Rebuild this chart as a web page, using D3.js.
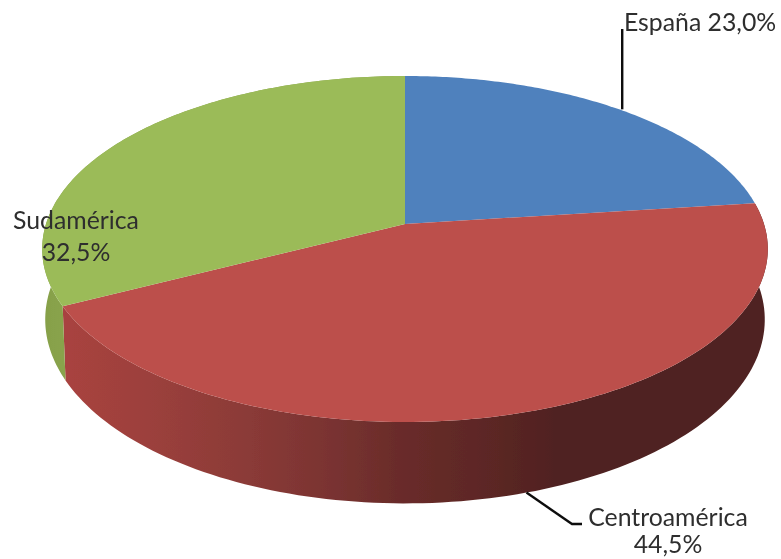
<!DOCTYPE html>
<html><head><meta charset="utf-8">
<script src="https://cdn.jsdelivr.net/npm/d3@7"></script>
<style>html,body{margin:0;padding:0;background:#fff}svg{display:block}</style>
</head><body><div id="chart"></div>
<script>
const categories = ["España", "Centroamérica", "Sudamérica"];
const shares = [23.0, 44.5, 32.5];
const topColors = ["#4f81bd", "#bc4f4b", "#9bbb59"];
const wallStops = [
  [],
  [[0,"#a8433f"],[0.16,"#9c403c"],[0.37,"#8a3a37"],[0.51,"#7c3432"],[0.67,"#6a2c2a"],[0.88,"#5a2624"],[1,"#4f2120"]],
  [[0,"#86a049"],[1,"#8aa44d"]]
];
const W = 781, H = 559;
const svg = d3.select("#chart").append("svg").attr("width", W).attr("height", H);
const defs = svg.append("defs");
defs.append("filter").attr("id","soft").append("feGaussianBlur").attr("stdDeviation",0.45);
const root = svg.append("g").attr("filter","url(#soft)");

const pie = d3.pie().sort(null).value(d => d);
const arcs = pie(shares);

// perspective projection of a disc lying in a plane
const tilt = 0.1445;
const project = (cfg, a) => {
  const u = Math.sin(a), v = Math.cos(a), d = 1 + tilt * v;
  return [cfg.cx + cfg.qx * u / d, cfg.cy - cfg.qy * v / d];
};
const topDisc = {cx:405, cy:224, qx:359, qy:169.4};
const lowDisc = {cx:405, cy:293, qx:356, qy:180};
const rim = (cfg, a0, a1) => d3.range(0, 121).map(i => project(cfg, a0 + (a1 - a0) * i / 120));
const line = d3.line();

// walls (the first slice's wall faces away from the viewer)
arcs.forEach((s, i) => {
  if (i === 0) return;
  const id = "wall" + i;
  const g = defs.append("linearGradient").attr("id", id).attr("gradientUnits","userSpaceOnUse")
    .attr("x1", i === 2 ? 40 : 70).attr("x2", i === 2 ? 72 : 560).attr("y1",0).attr("y2",0);
  wallStops[i].forEach(st => g.append("stop").attr("offset", st[0]).attr("stop-color", st[1]));
  const pts = rim(topDisc, s.startAngle, s.endAngle).concat(rim(lowDisc, s.startAngle, s.endAngle).reverse());
  root.append("path").attr("d", line(pts) + "Z").attr("fill", `url(#${id})`);
});
// top faces
arcs.forEach((s, i) => {
  const pts = [[topDisc.cx, topDisc.cy]].concat(rim(topDisc, s.startAngle, s.endAngle));
  root.append("path").attr("d", line(pts) + "Z").attr("fill", topColors[i]);
});

// leaders
const mid = s => (s.startAngle + s.endAngle) / 2;
const pE = project(topDisc, mid(arcs[0]));
const pC = project(lowDisc, mid(arcs[1]));
root.append("path").attr("fill","none").attr("stroke","#111").attr("stroke-width",2.4)
  .attr("d", line([[pE[0]+3, pE[1]], [pE[0]+3, 29]]));
root.append("path").attr("fill","none").attr("stroke","#111").attr("stroke-width",2.4)
  .attr("d", line([pC, [572, 524], [582, 524]]));

// labels
const pct = v => v.toFixed(1).replace(".", ",") + "%";
const font = "Lato, Carlito, sans-serif";
const text = (x, y, t, anchor) => root.append("text").attr("x",x).attr("y",y).text(t)
  .attr("text-anchor",anchor).attr("font-family",font).attr("font-size",24.8).attr("fill","#2e2e2e");
text(624, 31, `${categories[0]} ${pct(shares[0])}`, "start");
text(668, 526, categories[1], "middle");
text(668, 553, pct(shares[1]), "middle");
text(76, 229, categories[2], "middle");
text(76, 261, pct(shares[2]), "middle");
</script></body></html>
